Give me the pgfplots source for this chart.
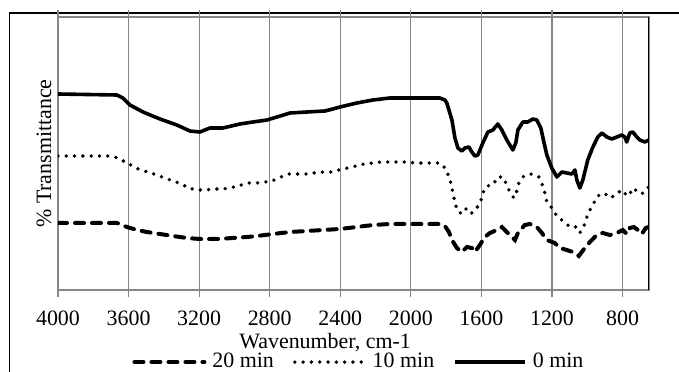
\documentclass[border=0pt]{standalone}
\usepackage{fontspec}
\setmainfont{Liberation Serif}
\usepackage{pgfplots}
\pgfplotsset{compat=1.18}
\definecolor{gridgray}{HTML}{878787}

\pgfplotstableread{
w y
4000 67
3666 67
3609 63
3552 60
3496 58
3422 56
3348 54
3269 52
3195 51
3099 51
3008 52
2929 53
2872 54
2782 56
2685 58
2589 59
2498 60
2402 61
2306 63
2215 65
2119 66
2022 66
1932 66
1835 66
1807 64
1784 58
1767 50
1739 42
1711 38
1682 43
1654 42
1637 38
1609 45
1580 53
1552 57
1512 60
1484 63
1456 58
1427 53
1410 50
1393 57
1354 65
1325 66
1286 63
1257 57
1229 50
1184 47
1155 42
1116 40
1082 38
1048 34
1014 42
985 48
946 55
912 57
872 55
832 57
798 60
776 56
759 62
736 63
713 60
691 56
668 62
651 63
}\twenty

\pgfplotstableread{
w y
4000 134
3705 134
3660 132
3609 127
3575 124
3535 120
3490 118
3439 115
3394 112
3348 109
3297 106
3263 102
3212 100
3167 100
3122 101
3071 101
3025 102
2980 104
2923 107
2872 107
2827 108
2787 109
2736 113
2691 116
2646 116
2595 116
2549 117
2498 118
2453 118
2408 120
2357 122
2311 124
2266 126
2215 127
2170 128
2119 128
2073 128
2022 128
1977 127
1932 127
1881 127
1835 127
1801 121
1784 113
1767 104
1762 96
1750 89
1739 80
1711 76
1682 82
1654 77
1626 82
1603 89
1592 97
1569 104
1535 105
1507 113
1478 113
1456 105
1439 98
1416 92
1399 99
1388 107
1359 114
1314 116
1274 113
1252 104
1240 97
1229 88
1201 82
1172 74
1138 69
1104 64
1070 64
1042 57
1019 64
1002 73
985 80
963 87
940 94
906 97
866 92
832 97
798 100
776 94
759 96
742 102
719 99
691 96
662 102
651 103
}\ten

\pgfplotstableread{
w y
4000 196
3666 195
3632 192
3592 185
3518 178
3422 171
3326 165
3252 159
3195 158
3139 162
3065 162
2969 166
2895 168
2816 170
2759 173
2685 177
2589 178
2487 179
2442 181
2402 183
2306 187
2215 190
2119 192
2022 192
1932 192
1835 192
1807 190
1796 187
1767 170
1750 152
1733 142
1711 139
1694 142
1671 143
1654 138
1637 134
1620 135
1592 147
1563 158
1535 160
1507 166
1484 160
1456 150
1422 140
1405 147
1393 160
1365 168
1337 168
1308 171
1286 170
1263 162
1246 148
1229 135
1201 122
1172 113
1144 118
1116 117
1087 116
1070 120
1059 110
1042 102
1025 110
997 130
968 143
940 153
917 157
889 153
861 151
832 153
804 155
787 153
776 148
759 157
742 158
719 153
702 150
674 148
651 150
}\zero

\begin{document}
\fontsize{22}{26}\selectfont
\begin{tikzpicture}
\useasboundingbox (0,0) rectangle (679bp,372bp);
\draw[line width=1.6bp] (9.5bp,-5bp) -- (9.5bp,359bp) -- (690bp,359bp);
\begin{axis}[
  at={(58bp,82bp)}, anchor=south west,
  scale only axis, width=591bp, height=273bp,
  x dir=reverse, xmin=650, xmax=4000, ymin=0, ymax=273,
  xtick={800,1200,...,4000}, ytick=\empty,
  xmajorgrids, grid style={gridgray, line width=1.1bp},
  axis line style={gridgray, line width=1.1bp},
  major tick length=7bp, tick align=outside,
  xtick style={gridgray, line width=1.1bp},
  /pgf/number format/assume math mode=true,
  /pgf/number format/1000 sep={},
  xticklabel style={anchor=center, yshift=-21bp},
  xlabel={Wavenumber, cm-1},
  xlabel style={at={(axis description cs:0.452,-0.194)}, anchor=center},
  ylabel={\% Transmittance},
  ylabel style={at={(axis description cs:-0.0237,0.5)}, anchor=center},
  legend columns=3,
  legend style={at={(axis description cs:0.51,-0.264)}, anchor=center,
    draw=none, fill=none, inner sep=0pt,
    nodes={inner sep=3bp},
    /tikz/every odd column/.append style={column sep=3bp},
    /tikz/every even column/.append style={column sep=16bp}},
  legend image code/.code={\draw[#1] (0bp,0bp) -- (70bp,0bp);},
]
\addplot[black, line width=4bp, line cap=round, dash pattern=on 9bp off 8bp] table[x=w,y=y] {\twenty};
\addlegendentry{20 min}
\addplot[black, line width=3.8bp, line cap=round, dash pattern=on 0bp off 8.3bp] table[x=w,y=y] {\ten};
\addlegendentry{10 min}
\addplot[black, line width=3.6bp, line join=round] table[x=w,y=y] {\zero};
\addlegendentry{0 min}
\draw[black, line width=1.6bp] (rel axis cs:1,0) -- (rel axis cs:1,1);
\end{axis}
\end{tikzpicture}
\end{document}
